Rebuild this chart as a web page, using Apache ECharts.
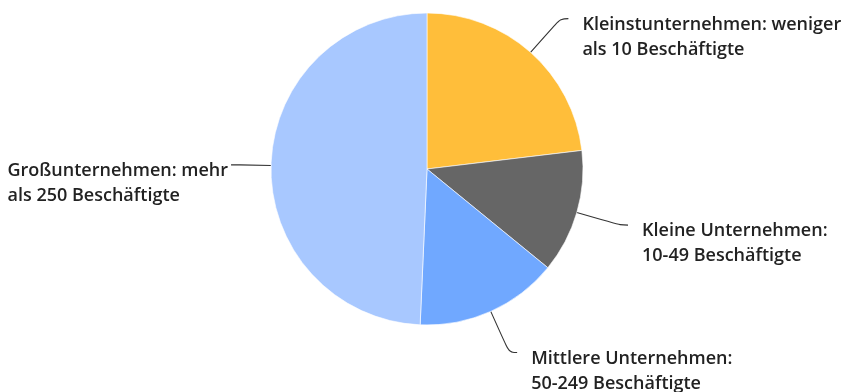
<!DOCTYPE html>
<html>
<head>
<meta charset="utf-8">
<script src="https://cdn.jsdelivr.net/npm/echarts@6/dist/echarts.min.js"></script>
<style>
  html, body { margin: 0; padding: 0; background: #fff; }
  #chart { width: 844px; height: 392px; }
</style>
</head>
<body>
<div id="chart"></div>
<script>
// Unternehmen nach Größenklasse (Anteile in %)
const categories = [
  'Kleinstunternehmen: weniger\nals 10 Beschäftigte',
  'Kleine Unternehmen:\n10-49 Beschäftigte',
  'Mittlere Unternehmen:\n50-249 Beschäftigte',
  'Großunternehmen: mehr\nals 250 Beschäftigte'
];
const shares = [23.1, 12.8, 14.8, 49.3];
const colors = ['#FFBE3A', '#666666', '#70A8FF', '#A8C8FF'];

// Führungslinien je Segment: [length, length2, Abstand zum Text]
const leaders = [[45, 8, 14], [45, 8, 14], [45, 8, 14], [32, 8, 3]];

const FONT = 'Open Sans';
const FONT_SIZE = 18;

const chart = echarts.init(document.getElementById('chart'), null, { renderer: 'canvas' });

// Leere erste Zeile (höher als die Textzeilen): die Führungslinie zeigt so
// knapp über die erste Textzeile, die Zeilen selbst bleiben linksbündig.
function labelText(p) {
  return '{s|}\n' + p.name.split('\n').map(s => '{t|' + s + '}').join('\n');
}

chart.setOption({
  animation: false,
  color: colors,
  series: [{
    type: 'pie',
    center: [427, 169],
    radius: 156,
    startAngle: 90,
    clockwise: true,
    avoidLabelOverlap: false,
    itemStyle: { borderColor: '#ffffff', borderWidth: 0.6 },
    label: {
      show: true,
      position: 'outside',
      bleedMargin: 0,
      formatter: labelText,
      fontFamily: FONT,
      fontWeight: 600,
      fontSize: FONT_SIZE,
      lineHeight: 25,
      color: '#222222',
      rich: {
        s: { lineHeight: 37, fontSize: FONT_SIZE },
        t: {
          align: 'left',
          fontFamily: FONT,
          fontWeight: 600,
          fontSize: FONT_SIZE,
          lineHeight: 25,
          color: '#222222'
        }
      }
    },
    labelLine: {
      show: true,
      smooth: 0.4,
      lineStyle: { color: '#333333', width: 1.1 }
    },
    data: categories.map((name, i) => ({
      name: name,
      value: shares[i],
      label: { distanceToLabelLine: leaders[i][2] },
      labelLine: { length: leaders[i][0], length2: leaders[i][1] }
    }))
  }]
});
</script>
</body>
</html>
